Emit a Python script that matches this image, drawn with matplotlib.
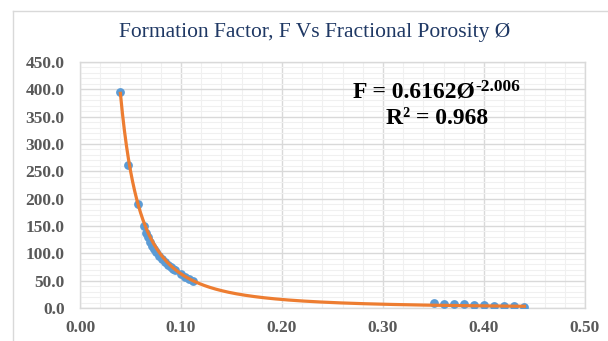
import numpy as np
import matplotlib
matplotlib.use("Agg")
import matplotlib.pyplot as plt
from matplotlib.lines import Line2D
from matplotlib.ticker import MultipleLocator

plt.rcParams['font.family'] = ['Liberation Serif', 'DejaVu Serif']

# Data (fractional porosity, formation factor)
porosity = [0.040, 0.048, 0.057, 0.063, 0.065, 0.067, 0.069, 0.071, 0.073, 0.075,
            0.078, 0.081, 0.084, 0.087, 0.090, 0.092, 0.094, 0.100, 0.104, 0.108, 0.112,
            0.35, 0.36, 0.37, 0.38, 0.39, 0.40, 0.41, 0.42, 0.43, 0.44]
formation_factor = [396, 262, 190, 150, 138, 129, 121, 114, 108, 102,
                    95, 89, 84, 78, 75, 72, 69, 62, 57, 53, 49,
                    8.5, 8.0, 7.2, 6.5, 5.8, 5.0, 4.3, 3.5, 2.8, 1.5]

# Power trendline coefficients shown on chart
coef_a = 0.6162
coef_b = -2.006
r_squared = 0.968

x_ticks = [0.00, 0.10, 0.20, 0.30, 0.40, 0.50]
y_ticks = [0, 50, 100, 150, 200, 250, 300, 350, 400, 450]

fig = plt.figure(figsize=(6.08, 3.41), dpi=100)
ax = fig.add_axes([80/608, 1-308/341, (585-80)/608, (308-62)/341])

ax.set_xlim(0, 0.5)
ax.set_ylim(0, 450)
ax.xaxis.set_major_locator(MultipleLocator(0.1))
ax.xaxis.set_minor_locator(MultipleLocator(0.02))
ax.yaxis.set_major_locator(MultipleLocator(50))
ax.yaxis.set_minor_locator(MultipleLocator(10))
ax.grid(True, which='major', color='#D9D9D9', lw=1.0, zorder=0)
ax.grid(True, which='minor', color='#F0F0F0', lw=0.8, zorder=0)
ax.set_axisbelow(True)
for s in ax.spines.values():
    s.set_color('#D9D9D9')
    s.set_linewidth(1.0)
ax.tick_params(which='both', length=0)
ax.set_xticks(x_ticks)
ax.set_xticklabels([f"{v:.2f}" for v in x_ticks])
ax.set_yticks(y_ticks)
ax.set_yticklabels([f"{v:.1f}" for v in y_ticks])
for lab in ax.get_xticklabels() + ax.get_yticklabels():
    lab.set_fontweight('bold')
    lab.set_fontsize(12.5)
    lab.set_color('#595959')
ax.tick_params(axis='x', pad=9)
ax.tick_params(axis='y', pad=11)

ax.scatter(porosity, formation_factor, s=40, color='#5B9BD5', zorder=3, linewidths=0)
xs = np.linspace(min(porosity), max(porosity), 400)
ax.plot(xs, coef_a * xs ** coef_b, color='#ED7D31', lw=2.3, zorder=4)

fig.text(315/608, 1-33/341, "Formation Factor, F Vs Fractional Porosity Ø",
         ha='center', va='center', fontsize=15.5, color='#1F3864')

main = fig.text(353/608, 1-92/341, f"F = {coef_a}Ø", ha='left', va='center',
                fontsize=17, fontweight='bold', color='black')
fig.canvas.draw()
bb = main.get_window_extent()
fig.text(bb.x1 / fig.bbox.width, 1-87/341, f"{coef_b}",
         ha='left', va='center', fontsize=12.5, fontweight='bold', color='black')
fig.text(437/608, 1-118/341, f"R² = {r_squared}", ha='center', va='center',
         fontsize=17, fontweight='bold', color='black')

# chart area border (partially visible)
fig.add_artist(Line2D([12.5/608, 12.5/608], [0, 1-11/341], transform=fig.transFigure,
                      color='#D9D9D9', lw=1))
fig.add_artist(Line2D([12.5/608, 1], [1-11/341, 1-11/341], transform=fig.transFigure,
                      color='#D9D9D9', lw=1))

fig.savefig("out.png", dpi=100)
